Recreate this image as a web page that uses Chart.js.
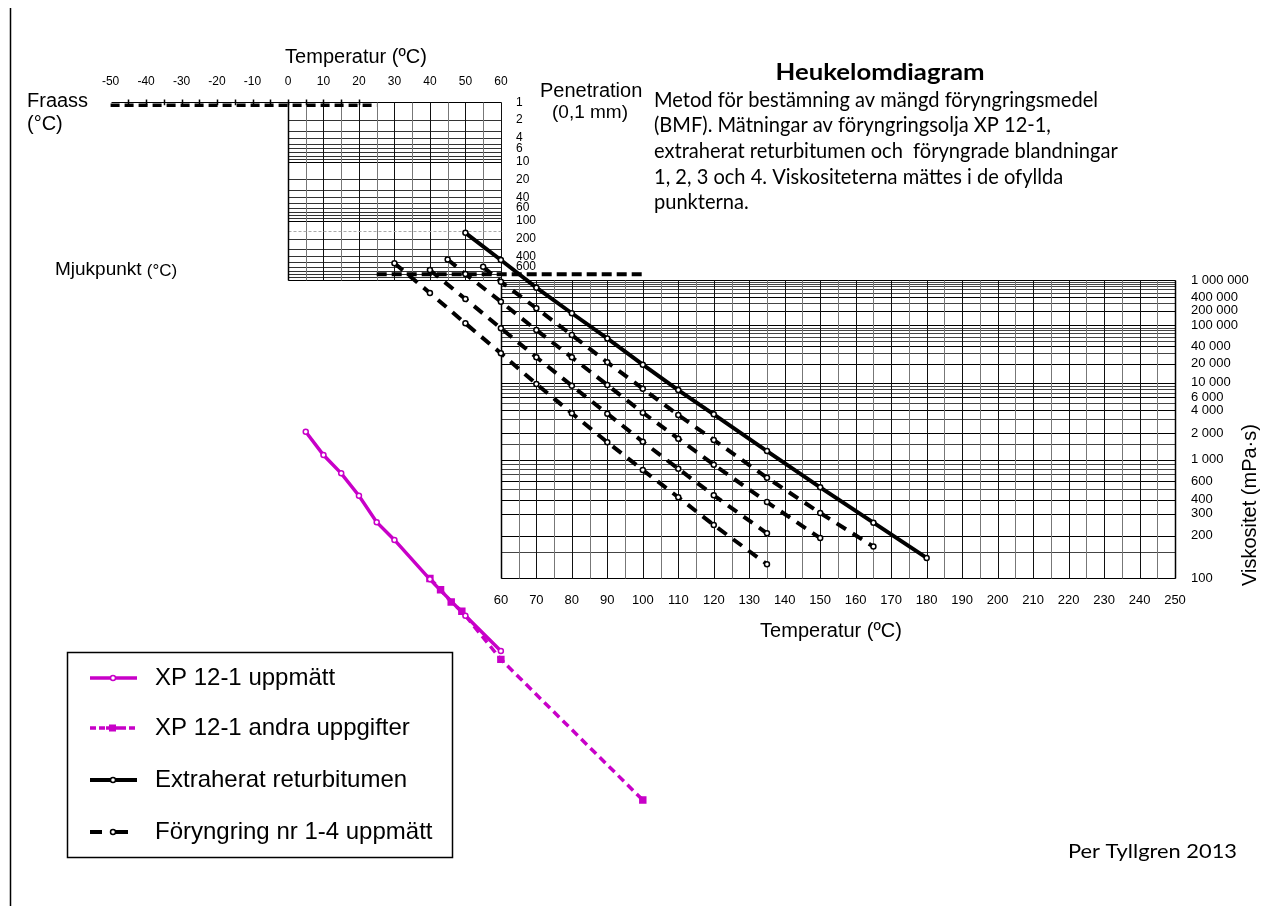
<!DOCTYPE html>
<html>
<head>
<meta charset="utf-8">
<title>Heukelomdiagram</title>
<script src="https://cdn.jsdelivr.net/npm/chart.js@4.4.0/dist/chart.umd.min.js"></script>
<style>
  html, body { margin: 0; padding: 0; background: #fff; }
  #wrap { width: 1268px; height: 906px; }
</style>
</head>
<body>
<div id="wrap"><canvas id="chart" width="1268" height="906"></canvas></div>
<script>
// --- measured data (temperature in °C) ---
// points above the softening line are penetrations (0,1 mm), the rest viscosities (mPa·s)
const bitumenPenT = [50, 60];
const bitumenPen = [160, 460];
const bitumenViscT = [70, 80, 90, 100, 110, 120, 135, 150, 165, 180];
const bitumenVisc = [655000, 177000, 56000, 19300, 7700, 3500, 1240, 520, 253, 137];

const blend1PenT = [55];
const blend1Pen = [600];
const blend1ViscT = [60, 70, 80, 90, 100, 110, 120, 135, 150, 165];
const blend1Visc = [910000, 226000, 65000, 21100, 8050, 3430, 1670, 647, 305, 165];

const blend2PenT = [45, 50];
const blend2Pen = [450, 790];
const blend2ViscT = [60, 70, 80, 90, 100, 110, 120, 135, 150];
const blend2Visc = [314000, 81000, 25700, 9160, 3690, 1730, 881, 380, 191];

const blend3PenT = [40];
const blend3Pen = [680];
const blend3ViscT = [50, 60, 70, 80, 90, 100, 110, 120, 135];
const blend3Visc = [360000, 88000, 25700, 8930, 3580, 1590, 798, 438, 208];

const blend4PenT = [30];
const blend4Pen = [520];
const blend4ViscT = [40, 50, 60, 70, 80, 90, 100, 110, 120, 135];
const blend4Visc = [493000, 110000, 30200, 9500, 3620, 1570, 775, 420, 242, 124];

const xpT = [5, 10, 15, 20, 25, 30, 40, 50, 60];
const xpVisc = [2100, 1120, 716, 434, 255, 185, 98.6, 60.4, 40.4];
const xpOtherT = [40, 43, 46, 49, 60, 100];
const xpOtherVisc = [100, 85, 72, 64, 37, 12.8];

// --- axes / tick labels ---
const tempTopTicks = [-50, -40, -30, -20, -10, 0, 10, 20, 30, 40, 50, 60];
const tempBottomTicks = [60, 70, 80, 90, 100, 110, 120, 130, 140, 150, 160, 170, 180, 190, 200, 210, 220, 230, 240, 250];
const penTicks = [1, 2, 4, 6, 10, 20, 40, 60, 100, 200, 400, 600];
const viscTicks = [1000000, 400000, 200000, 100000, 40000, 20000, 10000, 6000, 4000, 2000, 1000, 600, 400, 300, 200, 100];
const FRAASS_PEN = 1.12;
const SOFTENING_PEN = 800;

const MAGENTA = '#c800c8';

// Heukelom scales: viscosity on a log-log type scale, penetration on log scale stacked above
const VISC_C = 0.585;
function viscUnit(v) { return Math.log10(Math.log10(v) - VISC_C); }
const PEN_DECADE = 0.11569;
function penUnit(p) { return viscUnit(1e6) + PEN_DECADE * (3 - Math.log10(p)); }

function toPoints(penT, pens, viscT, viscs) {
    var pts = [];
    penT.forEach(function (t, i) { pts.push({ x: t, y: penUnit(pens[i]) }); });
    viscT.forEach(function (t, i) { pts.push({ x: t, y: viscUnit(viscs[i]) }); });
    return pts;
}

function fmtThousands(v) {
    return String(v).replace(/\B(?=(\d{3})+(?!\d))/g, ' ');
}

function gridValues(decades, last) {
    var out = [];
    decades.forEach(function (d) {
        for (var k = 1; k <= 9; k++) out.push(k * d);
    });
    out.push(last);
    return out;
}

var gridPlugin = {
    id: 'heukelomGrid',
    beforeDatasetsDraw: function (chart) {
        var ctx = chart.ctx, x = chart.scales.x, y = chart.scales.y;
        var px = function (t) { return Math.round(x.getPixelForValue(t)) + 0.5; };
        var py = function (u) { return Math.round(y.getPixelForValue(u)) + 0.5; };
        function line(x1, y1, x2, y2, color, w) {
            ctx.strokeStyle = color;
            ctx.lineWidth = w || 1;
            ctx.beginPath();
            ctx.moveTo(x1, y1);
            ctx.lineTo(x2, y2);
            ctx.stroke();
        }
        ctx.save();

        // penetration field 0..60 °C
        var pTop = py(penUnit(1)), pBot = py(penUnit(1000));
        gridValues([1, 10, 100], 1000).forEach(function (p) {
            var major = String(p)[0] === '1';
            line(px(0), py(penUnit(p)), px(60), py(penUnit(p)), major ? '#000' : '#333');
        });
        for (var t = 0; t <= 60; t += 5) {
            line(px(t), pTop, px(t), pBot, t % 10 ? '#777' : '#111');
        }
        ctx.setLineDash([3, 2]);
        line(px(0), py(penUnit(150)), px(60), py(penUnit(150)), '#aaa');
        ctx.setLineDash([]);

        // viscosity field 60..250 °C
        var vTop = py(viscUnit(1e6)), vBot = py(viscUnit(100));
        gridValues([100, 1000, 10000, 100000], 1e6).concat([150, 1500]).forEach(function (v) {
            var major = viscTicks.indexOf(v) >= 0;
            line(px(60), py(viscUnit(v)), px(250), py(viscUnit(v)), major ? '#000' : '#444');
        });
        for (var t2 = 60; t2 <= 250; t2 += 5) {
            line(px(t2), vTop, px(t2), vBot, t2 % 10 ? '#777' : '#111');
        }
        line(px(60), vTop, px(60), vBot, '#000', 1.5);
        line(px(250), vTop, px(250), vBot, '#000', 1.5);
        line(px(0), pTop, px(0), pBot, '#000', 1.5);

        // Fraass row
        line(px(-50), pTop, px(0), pTop, '#000', 1);
        var fy = y.getPixelForValue(penUnit(FRAASS_PEN));
        for (var t3 = -45; t3 <= 20; t3 += 5) {
            line(px(t3), pTop - 3, px(t3), fy, '#000', 1.5);
        }
        ctx.setLineDash([9, 5]);
        line(x.getPixelForValue(-50), fy, x.getPixelForValue(25), fy, '#000', 3.5);

        // softening point line
        var sy = y.getPixelForValue(penUnit(SOFTENING_PEN));
        ctx.setLineDash([10, 5]);
        line(x.getPixelForValue(25), sy, x.getPixelForValue(100), sy, '#000', 4);
        ctx.setLineDash([]);
        ctx.restore();
    }
};

var textPlugin = {
    id: 'heukelomText',
    afterDraw: function (chart) {
        var ctx = chart.ctx, x = chart.scales.x, y = chart.scales.y;
        var ARIAL = '"Liberation Sans", Arial, sans-serif';
        var CAL = 'Lato, "Open Sans", sans-serif';
        function text(s, tx, ty, size, align, weight, family) {
            ctx.font = (weight || 'normal') + ' ' + size + 'px ' + (family || ARIAL);
            ctx.textAlign = align || 'left';
            ctx.textBaseline = 'middle';
            ctx.fillText(s, tx, ty);
        }
        // text squeezed horizontally to a given width (narrow Calibri-like look)
        function squeezed(s, tx, ty, size, weight, sx, align) {
            ctx.save();
            ctx.translate(tx, ty);
            ctx.scale(sx, 1);
            text(s, 0, 0, size, align || 'left', weight, CAL);
            ctx.restore();
        }
        function scaleFor(s, width, size, weight) {
            ctx.font = weight + ' ' + size + 'px ' + CAL;
            return width / ctx.measureText(s).width;
        }
        ctx.save();
        ctx.fillStyle = '#000';

        // frame
        ctx.strokeStyle = '#000';
        ctx.lineWidth = 1.5;
        ctx.beginPath();
        ctx.moveTo(10.5, 8);
        ctx.lineTo(10.5, 906);
        ctx.stroke();

        // temperature axes
        text('Temperatur (ºC)', 356, 57, 20, 'center');
        tempTopTicks.forEach(function (t) { text(String(t), x.getPixelForValue(t), 82, 12, 'center'); });
        tempBottomTicks.forEach(function (t) { text(String(t), x.getPixelForValue(t), 600, 13, 'center'); });
        text('Temperatur (ºC)', 831, 631, 20, 'center');

        // penetration axis
        penTicks.forEach(function (p) { text(String(p), 516, y.getPixelForValue(penUnit(p)), 12, 'left'); });
        text('Penetration', 540, 91, 20, 'left');
        text('(0,1 mm)', 590, 113, 19, 'center');

        // viscosity axis
        viscTicks.forEach(function (v) { text(fmtThousands(v), 1191, y.getPixelForValue(viscUnit(v)), 13, 'left'); });
        ctx.save();
        ctx.translate(1250, 505);
        ctx.rotate(-Math.PI / 2);
        text('Viskositet (mPa·s)', 0, 0, 20, 'center');
        ctx.restore();

        text('Fraass', 27, 101, 20, 'left');
        text('(°C)', 27, 124, 20, 'left');
        text('Mjukpunkt', 55, 270, 19, 'left');
        ctx.font = '19px ' + ARIAL;
        var mw = ctx.measureText('Mjukpunkt ').width;
        text('(°C)', 55 + mw, 271, 17, 'left');

        // title and description
        squeezed('Heukelomdiagram', 880, 73, 23, 'bold', scaleFor('Heukelomdiagram', 209, 23, 'bold'), 'center');
        var para = [
            'Metod för bestämning av mängd föryngringsmedel',
            '(BMF). Mätningar av föryngringsolja XP 12-1,',
            'extraherat returbitumen och  föryngrade blandningar',
            '1, 2, 3 och 4. Viskositeterna mättes i de ofyllda',
            'punkterna.'
        ];
        var sx = scaleFor(para[0], 444, 21, 'normal');
        para.forEach(function (s, i) { squeezed(s, 654, 100 + i * 25.6, 21, 'normal', sx); });
        squeezed('Per Tyllgren 2013', 1068, 852, 19, 'normal', scaleFor('Per Tyllgren 2013', 169, 19, 'normal'));

        // legend
        ctx.lineWidth = 1.5;
        ctx.strokeStyle = '#000';
        ctx.strokeRect(67.5, 652.5, 385, 205);
        var rows = [678, 728, 780, 832];
        var labels = ['XP 12-1 uppmätt', 'XP 12-1 andra uppgifter', 'Extraherat returbitumen', 'Föryngring nr 1-4 uppmätt'];
        function seg(x1, x2, yy, color, w, dash) {
            ctx.strokeStyle = color; ctx.lineWidth = w; ctx.setLineDash(dash || []);
            ctx.beginPath(); ctx.moveTo(x1, yy); ctx.lineTo(x2, yy); ctx.stroke();
            ctx.setLineDash([]);
        }
        function circ(cx, cy, color) {
            ctx.beginPath(); ctx.arc(cx, cy, 2.5, 0, Math.PI * 2);
            ctx.fillStyle = '#fff'; ctx.fill();
            ctx.strokeStyle = color; ctx.lineWidth = 1.5; ctx.stroke();
        }
        seg(90, 137, rows[0], MAGENTA, 3.5); circ(113, rows[0], MAGENTA);
        seg(90, 106, rows[1], MAGENTA, 3.5, [6, 3]); seg(120, 137, rows[1], MAGENTA, 3.5, [6, 3]);
        seg(106, 120, rows[1], MAGENTA, 3.5);
        ctx.fillStyle = MAGENTA; ctx.fillRect(109, rows[1] - 3.5, 7, 7);
        seg(90, 137, rows[2], '#000', 4); circ(113, rows[2], '#000');
        seg(90, 102, rows[3], '#000', 4); seg(112, 128, rows[3], '#000', 4); circ(113, rows[3], '#000');
        ctx.fillStyle = '#000';
        labels.forEach(function (s, i) { text(s, 155, rows[i], 24, 'left'); });
        ctx.restore();
    }
};

function lineSet(label, points, color, width, dash, pointStyle, radius, fill) {
    return {
        label: label,
        data: points,
        showLine: true,
        borderColor: color,
        borderWidth: width,
        borderDash: dash,
        pointStyle: pointStyle,
        pointRadius: radius,
        pointBorderWidth: 1.5,
        pointBorderColor: color,
        pointBackgroundColor: fill
    };
}

var BLEND_DASH = [11, 8];

new Chart(document.getElementById('chart'), {
    type: 'scatter',
    data: {
        datasets: [
            lineSet('XP 12-1 uppmätt', xpT.map(function (t, i) { return { x: t, y: viscUnit(xpVisc[i]) }; }), MAGENTA, 3.5, [], 'circle', 2.5, '#fff'),
            lineSet('XP 12-1 andra uppgifter', xpOtherT.map(function (t, i) { return { x: t, y: viscUnit(xpOtherVisc[i]) }; }), MAGENTA, 3.5, [8, 5], 'rect', 4.2, MAGENTA),
            lineSet('Extraherat returbitumen', toPoints(bitumenPenT, bitumenPen, bitumenViscT, bitumenVisc), '#000', 4, [], 'circle', 2.5, '#fff'),
            lineSet('Föryngring nr 1', toPoints(blend1PenT, blend1Pen, blend1ViscT, blend1Visc), '#000', 4, BLEND_DASH, 'circle', 2.5, '#fff'),
            lineSet('Föryngring nr 2', toPoints(blend2PenT, blend2Pen, blend2ViscT, blend2Visc), '#000', 4, BLEND_DASH, 'circle', 2.5, '#fff'),
            lineSet('Föryngring nr 3', toPoints(blend3PenT, blend3Pen, blend3ViscT, blend3Visc), '#000', 4, BLEND_DASH, 'circle', 2.5, '#fff'),
            lineSet('Föryngring nr 4', toPoints(blend4PenT, blend4Pen, blend4ViscT, blend4Visc), '#000', 4, BLEND_DASH, 'circle', 2.5, '#fff')
        ]
    },
    options: {
        responsive: false,
        animation: false,
        devicePixelRatio: 1,
        layout: { padding: 0, autoPadding: false },
        plugins: { legend: { display: false }, tooltip: { enabled: false } },
        scales: {
            x: { type: 'linear', display: false, min: -81.17, max: 276.21 },
            y: { type: 'linear', display: false, min: -0.4891, max: 1.2805 }
        }
    },
    plugins: [gridPlugin, textPlugin]
});
</script>
</body>
</html>
